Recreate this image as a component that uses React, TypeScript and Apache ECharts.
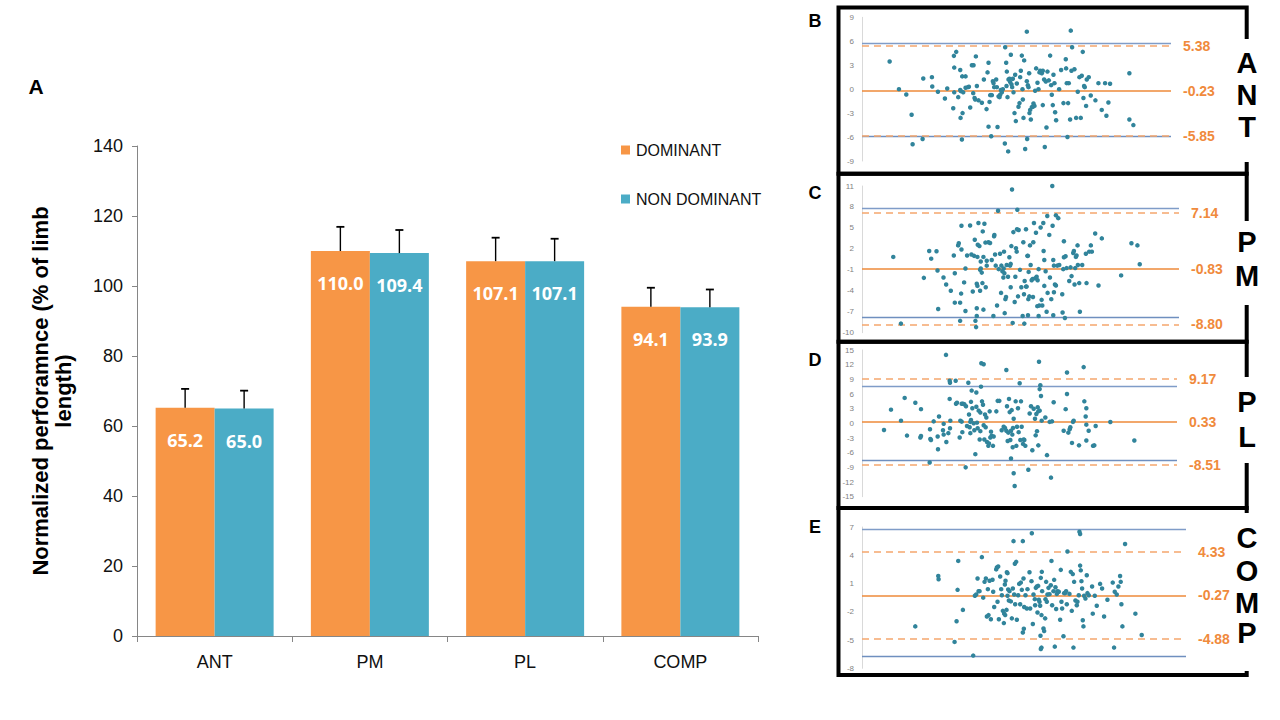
import React, { useEffect, useRef } from "react";
import * as echarts from "echarts";

// ---------- Panel A data ----------
const categories = ["ANT", "PM", "PL", "COMP"];
const dominant = [65.2, 110.0, 107.1, 94.1];
const nonDominant = [65.0, 109.4, 107.1, 93.9];
const dominantSD = [5.4, 6.9, 6.7, 5.4];
const nonDominantSD = [5.1, 6.6, 6.4, 5.1];
const seriesNames = ["DOMINANT", "NON DOMINANT"];

// ---------- Bland-Altman data (B-E) ----------
const panelLetters = ["B", "C", "D", "E"];
const panelWords = ["ANT", "PM", "PL", "COMP"];
// [upper limit, bias, lower limit]
const antLimits = [5.38, -0.23, -5.85];
const pmLimits = [7.14, -0.83, -8.8];
const plLimits = [9.17, 0.33, -8.51];
const compLimits = [4.33, -0.27, -4.88];
// reference (blue) lines
const antRef = [5.8, -5.9];
const pmRef = [7.87, -7.83];
const plRef = [7.5, -7.57];
const compRef = [6.72, -6.7];
// y tick ranges [min, max, step]
const antTicks = [-9, 9, 3];
const pmTicks = [-10, 11, 3];
const plTicks = [-15, 15, 3];
const compTicks = [-8, 7, 3];

const antPoints = [[26.8,3.46],[29.6,0],[31.8,-0.67],[33.4,-3.2],[33.7,-6.9],[36.7,-6.25],[36.9,1.33],[39.5,1.5],[39.6,0.33],[41.3,-0.33],[43.4,-1.17],[44.1,0.08],[45.9,-2.4],[46.1,4.17],[46.8,4.67],[46.2,2.7],[46.2,-0.4],[47.4,-1.0],[48,2.4],[48,-0.1],[48.2,-0.25],[48.1,-3.6],[48.5,-6.3],[48.6,1.6],[49.6,1.6],[48.7,-3.0],[48.9,-0.4],[49.6,0.17],[50.3,0.25],[51,-2.3],[50.6,0.3],[51.5,3.0],[52,3.0],[51.9,-0.5],[52.3,-1.1],[52.5,-1.3],[52.7,4.1],[53,0.4],[53.5,-1.4],[54.5,-1.7],[55.1,1.2],[55.9,-2.5],[56.2,2.1],[56.5,3.3],[56.5,-4.7],[56.8,-1.6],[57,-0.75],[57.3,-5.9],[57.5,-0.75],[57.8,1.0],[58,0.75],[58.2,0.25],[58.8,1.2],[59,0.25],[59.2,-4.75],[59.5,-0.9],[59.8,-1.0],[60,-0.7],[60.2,-0.1],[60.5,-0.4],[60.8,0],[61.4,-6.8],[61.5,5.25],[61.8,3.3],[61.9,0.4],[62,2.2],[62.2,-1.0],[62.4,-7.8],[62.5,1.2],[62.8,1.3],[63,0.9],[63.2,4.3],[63.4,0.6],[63.6,0.25],[63.8,1.3],[64,-0.4],[64.3,-3.0],[64.5,1.8],[64.7,-4.0],[65,0.7],[65.5,-2.2],[65.8,-1.75],[66,1.5],[66.2,2.3],[66.5,4.2],[66.7,0],[66.8,-1.3],[67,-3.6],[67.2,3.6],[67.5,-7.5],[68,7.2],[68,1.0],[68.1,-6.25],[68.3,0.5],[68.5,0.25],[68.7,2.0],[68.8,-3.0],[69,-2.6],[69.2,-3.8],[69.5,-2.25],[69.8,-2.2],[70,-1.8],[70.3,-2.1],[70.5,-0.2],[70.8,2.6],[71.2,0.8],[71.5,0],[71.8,2.1],[72,2.3],[72.5,2.0],[72.8,2.3],[72.8,-2.0],[73.2,1.2],[73.4,-7.25],[73.7,0.96],[73.9,-4.8],[74.2,2.2],[74.6,1.1],[75,4.2],[75.3,0.5],[75.5,-0.7],[75.8,-2.0],[76,1.8],[76.3,0.75],[76.5,-2.9],[76.8,-3.9],[77.7,0],[78.3,2.4],[79,-1.75],[79.7,3.75],[79.8,2.6],[80,0.75],[80.2,-6.0],[80.4,-1.75],[80.6,0.75],[81,-3.8],[81.2,7.33],[81.4,2.3],[81.6,5.25],[82.3,2.5],[82.8,-3.6],[83.3,-0.33],[83.8,1.5],[84.2,-3.6],[84.5,1.67],[84.8,4.67],[85,-1.1],[85.2,0.4],[85.4,0.25],[85.8,-2.1],[86,1.2],[86.6,1.5],[87.2,-0.8],[88.6,-1.4],[89.5,0.75],[90.5,-2.6],[91.5,0.75],[91.9,-3.33],[92.5,-1.67],[93,0.67],[98.8,2.0],[98.8,-3.8],[100,-4.5]];

const pmPoints = [[27.9,0.85],[30.2,-8.7],[37.1,-2.15],[38.7,1.7],[39.3,0.6],[40.9,1.67],[41.2,-1.1],[41.4,-6.6],[43,-2.1],[43.8,-3.1],[45.2,-4.0],[46.1,1.05],[46.4,-1.5],[46.4,-5.7],[47.4,2.5],[47.6,2.8],[48,-5.7],[48,-8.3],[48.4,1.9],[48.4,5.3],[48.3,-4.4],[49.2,-2.8],[49.6,-0.8],[49.6,-6.9],[50.1,1.05],[51,5.35],[51.4,1.2],[51.8,-4.1],[52.2,1.0],[52.4,3.3],[52.6,-8.3],[52.8,-9.2],[53,-3.0],[53.2,-3.3],[53,-6.5],[53,-7.6],[53.2,0.85],[53.3,2.6],[53.5,5.7],[53.8,2.4],[54,-1.0],[54.2,-0.8],[54,-4.0],[54.2,0.2],[54.5,-1.4],[54.7,-2.9],[54.8,4.5],[55,-6.7],[55,0.85],[55.3,5.6],[55.6,2.9],[55.7,-3.5],[56,0.3],[56,-0.4],[56.5,2.95],[57,2.85],[57.5,0.4],[58,-7.6],[58.2,3.8],[58.3,4.0],[58.5,1.2],[58.7,-0.4],[59.1,-6.1],[59.4,7.45],[59.6,-0.9],[60,1.3],[60.3,-4.3],[60.4,-0.4],[60.7,-1.2],[61,-2.1],[61.1,-0.8],[61.2,1.6],[61.3,-1.5],[61.4,-7.2],[61.6,-5.2],[61.8,-4.9],[62,-0.3],[62.4,-2.0],[62.8,0.8],[63,-0.4],[63.2,-0.15],[63.2,-3.5],[63.4,2.4],[63.6,10.5],[63.8,-8.6],[64,4.4],[64.4,-5.6],[64.6,-2.0],[64.8,2.1],[65,1.6],[65.1,4.8],[65.2,7.6],[65.4,-4.8],[65.6,4.7],[66,-1.0],[66.4,-3.5],[66.8,-7.6],[67,2.95],[67.2,-4.5],[67.3,-8.7],[67.4,-2.6],[67.8,-3.4],[68,-3.4],[67.8,4.8],[68.2,1.0],[68.4,1.0],[68.4,-7.5],[68.5,-5.2],[68.6,-1.3],[68.8,-4.8],[69,2.5],[69.2,-0.3],[69.5,-2.5],[69.8,-2.3],[69.9,-4.9],[70,2.95],[70.2,5.7],[70.6,-2.2],[70.8,4.3],[71,-2.0],[71.2,-6.2],[71.3,-2.5],[71.6,-7.6],[71.6,-0.9],[71.8,-6.1],[72.2,5.05],[72.5,-5.3],[72.7,-6.1],[73,5.7],[73.1,1.7],[73.3,0.4],[73.3,-3.3],[73.7,-1.2],[74,-7.0],[74.2,6.7],[74.3,-4.3],[74.8,4.0],[75,-2.1],[75.4,-5.2],[75.7,11.0],[75.8,5.3],[76,0.4],[76,-7.5],[76.2,-4.2],[76.2,-0.4],[76.5,-3.1],[76.8,-3.25],[76.8,6.8],[77.2,-0.4],[77.5,6.4],[77.8,-0.3],[78.7,-4.5],[78.8,-7.1],[79,-0.9],[79.2,3.1],[79.2,0.8],[79.5,-7.9],[79.7,0.95],[80,-0.75],[80.8,-2.6],[81.2,-0.65],[81.5,-1.9],[82,1.4],[82.2,1.7],[82.4,-3.1],[82.6,-0.75],[82.8,0.85],[83,1.05],[83.3,2.5],[83.4,-0.3],[83.8,-2.9],[84,-7.0],[84.7,-0.3],[85.8,1.3],[86,-2.9],[86.8,1.6],[87.3,2.5],[87.6,1.6],[88.6,4.2],[89.6,-3.25],[90.6,3.5],[96.4,-1.8],[99.5,2.8],[101.3,2.5],[102,-0.2]];

const plPoints = [[25.1,-1.36],[27.2,2.8],[30.2,0.55],[31.3,5.2],[32,-2.5],[34.5,4.2],[36.2,2.9],[36,-2.9],[36.2,-2.6],[38.8,-8.0],[38.9,-1.2],[39,-3.2],[39.2,-3.4],[40,0.4],[41.2,-2.7],[41.3,-5.3],[41.6,1.4],[42.8,-1.4],[43,-2.3],[43,-0.1],[43.7,14.0],[43.8,-3.8],[44.4,-2.0],[44.8,8.7],[44.9,8.3],[44.8,5.0],[44.9,-1.0],[45,0.55],[46.6,8.7],[46.7,4.0],[47,4.2],[47.8,-2.9],[48,0.55],[48.4,0.35],[48.4,4.0],[48.8,4.0],[49.2,3.9],[48.6,-1.8],[49.6,-9.0],[49.7,3.5],[50,-0.55],[50.4,8.3],[50.6,1.8],[50.8,-0.8],[51,-2.0],[51,0.3],[51.2,0.7],[51.2,4.4],[51.4,6.7],[51.6,3.1],[52,0],[52.2,-1.4],[52.5,-6.3],[52.8,6.3],[52.8,3.4],[53,0.14],[53.2,-1.0],[53.5,2.6],[54,2.2],[53.8,-3.3],[54,-1.6],[54.2,7.5],[54.3,12.3],[55,12.1],[54.5,4.5],[54.8,3.8],[55,-0.4],[55.2,-3.3],[55.4,1.8],[55.6,-0.8],[55.8,1.2],[56,-3.8],[56.4,-4.6],[56.6,-4.1],[56.8,2.45],[57,-2.9],[57.4,-2.5],[57.2,-1.7],[57.8,-4.6],[58,-2.7],[58.8,2.45],[59.2,4.6],[59.7,4.6],[60.4,-1.4],[61,-0.7],[61.4,-0.95],[61.8,-1.5],[61.8,10.9],[62,3.5],[62.2,-3.6],[62.4,-1.9],[62.6,5.0],[62.8,2.3],[63,-3.4],[63.2,-7.2],[63.2,-1.5],[63.4,2.7],[63.6,-2.3],[63.7,-4.9],[63.8,-0.95],[64,-10.2],[64,0.95],[64.3,-12.8],[64.6,4.5],[64.8,-4.6],[65,-0.7],[65.3,3.1],[65.5,-1.8],[65.8,8.2],[66,-3.4],[66.2,4.5],[66.4,-0.7],[66.8,-4.2],[67,-3.3],[67.2,-3.4],[67.5,-4.6],[68.4,-9.5],[68.8,2.0],[69.2,3.5],[69.6,-5.5],[70,3.0],[70.4,0.95],[70.6,-2.45],[70.8,1.9],[71,-1.6],[71.2,3.3],[71.4,2.45],[71.8,2.6],[71.4,-4.5],[71.6,12.6],[71.8,7.0],[72,7.8],[72.2,5.6],[72.4,0.55],[73.5,1.2],[74,-6.5],[74.8,0.3],[75.2,-11.1],[75.5,0.4],[76,4.3],[79,-1.5],[79.6,2.9],[80,10.4],[80,6.0],[80.4,-1.9],[80.8,-1.2],[81,-0.8],[81.5,-4.0],[81.8,0.3],[82,0.55],[83.6,-4.5],[85,11.5],[85.2,4.5],[85.6,1.4],[85.8,-3.5],[85.8,3.1],[85.8,-0.27],[86.5,-1.5],[87.8,-4.6],[88.2,-4.5],[88.6,-0.55],[93,0.27],[100.2,-3.5]];

const compPoints = [[34.5,-3.55],[41.4,1.8],[41.5,1.46],[46.3,-5.2],[46.9,-3.0],[47.2,0.33],[47.4,3.4],[48.8,-1.8],[51.9,-6.65],[52.4,-0.3],[52.8,-0.16],[53.2,1.53],[53.5,0.19],[53.8,0.19],[54.5,3.8],[54.9,-0.5],[55.3,1.18],[55.7,1.53],[56,-2.5],[56.5,-2.35],[57.2,-2.8],[56.3,0.4],[56.8,1.3],[57.7,1.4],[57.9,0.12],[58.2,-1.5],[58.8,2.5],[59,2.7],[59.4,2.8],[59.2,-0.94],[59.6,-2.8],[60,1.74],[60.3,0.4],[60.5,-0.24],[60.8,-1.9],[61.2,-2.2],[61.5,-2.35],[61.1,-3.2],[61.4,0.9],[61.6,1.3],[61.9,-1.8],[62,2.2],[62.2,2.1],[62.2,-0.3],[62.4,0.36],[62.6,-0.8],[62.8,0.19],[63.2,-0.9],[63.5,-2.7],[63.8,0.47],[64,5.5],[64.2,-0.16],[64.4,3.1],[64.8,3.3],[64.5,-1.2],[65,-2.85],[65.4,-0.24],[65.7,0.96],[66,-1.2],[66.2,1.1],[66.5,0.33],[66.8,5.5],[66.8,-4.2],[67.1,-3.8],[67,1.53],[67.2,-1.5],[67.6,-0.24],[68,-1.65],[68.2,0.4],[68.8,2.2],[69,-1.65],[69.4,1.25],[69.5,6.33],[69.8,-3.3],[70,-0.16],[70.4,-0.66],[70.5,-1.3],[70.7,0.54],[71,0.68],[71.4,0.75],[71.2,-2.07],[71.6,-0.73],[71.8,-0.94],[72,-1.36],[72.1,-4.55],[72.2,1.6],[72.2,-5.95],[72.4,-5.8],[72.4,-2.35],[72.5,2.24],[72.6,0.19],[73,-3.77],[73.2,-4.05],[73.5,-2.7],[73.6,-0.66],[73.8,1.18],[74,-0.94],[74.2,-0.16],[74.5,0.54],[74.8,-0.13],[75.2,0.82],[75.4,3.4],[75.6,-1.3],[76,0.19],[76.2,1.39],[76.4,-5.7],[76.6,0.6],[76.8,-1.7],[77,-0.1],[77.2,0.19],[77.6,0.12],[78,-2.85],[78.2,2.45],[78.4,-0.94],[78.6,-1.65],[79,-4.6],[79.2,-0.02],[79.5,-0.02],[79.8,0.19],[80,-1.2],[80.2,4.4],[80.8,-0.1],[81.2,2.24],[81.8,2.0],[81.5,-1.9],[82,-5.8],[82.2,1.18],[82.6,-0.8],[83,-1.3],[83.2,-0.94],[83.6,-0.24],[83.8,6.5],[84,6.26],[84,2.9],[84.2,2.4],[84.4,1.25],[84.6,0.47],[84.8,-2.9],[85,-3.55],[85.2,-0.3],[85.6,-0.6],[86,1.88],[86.2,-0.02],[86.6,-0.24],[87.6,0.68],[87.8,-2.2],[88.4,-0.3],[89,-1.36],[90,0.96],[90.6,0.47],[91.2,-2.5],[92.2,-0.73],[93.8,1.1],[94.2,-5.8],[94.4,0.12],[95,-0.16],[95.5,0.68],[96,1.8],[96.2,1.18],[96.4,-1.2],[96.7,-3.55],[97.5,5.2],[100.6,-2.2],[102.5,-4.47]];

// ---------- styles / layout ----------
const ORANGE = "#F79646";
const TEAL = "#4BACC6";
const DOT = "#31849B";
const SANS = "'Liberation Sans', Arial, Helvetica, sans-serif";

const panelLayouts = [
  { top: 17.3, height: 143.7, width: 309, xMax: 111.3, frameY: 7.5, frameH: 166.3, gap: [39, 162], letterY: [62.7, 95, 126.7], labelY: 21 },
  { top: 186, height: 146.7, width: 317, xMax: 113.8, frameY: 173.8, frameH: 168, gap: [221, 305], letterY: [241.7, 276], labelY: 193 },
  { top: 350, height: 146.7, width: 315, xMax: 113.0, frameY: 341.8, frameH: 166.2, gap: [377, 463], letterY: [402, 437], labelY: 360 },
  { top: 527, height: 141.3, width: 324, xMax: 115.8, frameY: 508, frameH: 167, gap: [513, 671], letterY: [538, 570.5, 603, 633], labelY: 527 },
];

const panelPoints = [antPoints, pmPoints, plPoints, compPoints];
const panelLimits = [antLimits, pmLimits, plLimits, compLimits];
const panelRefs = [antRef, pmRef, plRef, compRef];
const panelTicks = [antTicks, pmTicks, plTicks, compTicks];

function buildOption() {
  const grids: any[] = [{ left: 137, top: 146, width: 621, height: 490 }];
  const xAxes: any[] = [
    {
      type: "category",
      gridIndex: 0,
      data: categories,
      axisLine: { lineStyle: { color: "#868686", width: 1 } },
      axisTick: { show: true, alignWithLabel: false, length: 6, lineStyle: { color: "#868686" } },
      axisLabel: { fontSize: 18, color: "#111", fontFamily: SANS, margin: 17 },
    },
  ];
  const yAxes: any[] = [
    {
      type: "value",
      gridIndex: 0,
      min: 0,
      max: 140,
      interval: 20,
      name: "Normalized perforamnce (% of limb\nlength)",
      nameLocation: "middle",
      nameGap: 62,
      nameTextStyle: { fontSize: 22, fontWeight: "bold", color: "#000", fontFamily: SANS, lineHeight: 23 },
      axisLine: { show: true, lineStyle: { color: "#868686" } },
      axisTick: { show: true, length: 5, lineStyle: { color: "#868686" } },
      axisLabel: { fontSize: 18, color: "#111", fontFamily: SANS, margin: 14 },
      splitLine: { show: false },
    },
  ];

  const barCommon = {
    type: "bar",
    xAxisIndex: 0,
    yAxisIndex: 0,
    barGap: "0%",
    barCategoryGap: "24%",
    label: {
      show: true,
      position: "insideTop",
      distance: 23,
      color: "#fff",
      fontSize: 18,
      fontWeight: "bold",
      fontFamily: "'Open Sans', 'Noto Sans', sans-serif",
      formatter: (p: any) => Number(p.value).toFixed(1),
    },
  };

  const errorSeries = (vals: number[], sds: number[], side: number) => ({
    type: "custom",
    xAxisIndex: 0,
    yAxisIndex: 0,
    silent: true,
    z: 10,
    data: vals.map((v, i) => [i, v, v + sds[i]]),
    encode: { x: 0, y: [1, 2] },
    renderItem: (params: any, api: any) => {
      const i = api.value(0);
      const base = api.coord([i, api.value(1)]);
      const top = api.coord([i, api.value(2)]);
      const band = api.size([1, 0])[0];
      const x = base[0] + side * band * 0.19;
      return {
        type: "group",
        children: [
          { type: "line", shape: { x1: x, y1: base[1], x2: x, y2: top[1] }, style: { stroke: "#000", lineWidth: 1.4 } },
          { type: "line", shape: { x1: x - 4, y1: top[1], x2: x + 4, y2: top[1] }, style: { stroke: "#000", lineWidth: 1.8 } },
        ],
      };
    },
  });

  const series: any[] = [
    { ...barCommon, name: seriesNames[0], data: dominant, itemStyle: { color: ORANGE } },
    { ...barCommon, name: seriesNames[1], data: nonDominant, itemStyle: { color: TEAL } },
    errorSeries(dominant, dominantSD, -1),
    errorSeries(nonDominant, nonDominantSD, 1),
  ];

  const graphic: any[] = [
    { type: "text", x: 36, y: 86, style: { text: "A", fontSize: 21, fontWeight: "bold", fontFamily: SANS, fill: "#000", align: "center", verticalAlign: "middle" } },
  ];

  panelLayouts.forEach((L, k) => {
    const gi = k + 1;
    const [tMin, tMax, tStep] = panelTicks[k];
    const [up, bias, lo] = panelLimits[k];
    const [rUp, rLo] = panelRefs[k];
    grids.push({ left: 862, top: L.top, width: L.width, height: L.height });
    xAxes.push({ type: "value", gridIndex: gi, min: 18.5, max: L.xMax, show: false });
    yAxes.push({
      type: "value",
      gridIndex: gi,
      min: tMin,
      max: tMax,
      interval: tStep,
      axisLine: { show: true, lineStyle: { color: "#d9d9d9", width: 1 } },
      axisTick: { show: false },
      splitLine: { show: false },
      axisLabel: { fontSize: 8, color: "#7f7f7f", fontFamily: SANS, margin: 8 },
    });
    const lblStyle = { show: true, position: "end", distance: 12, color: "#F08A3C", fontSize: 14, fontWeight: "bold", fontFamily: SANS, padding: [0, 0, 6, 0], formatter: (p: any) => Number(p.value).toFixed(2) };
    series.push({
      type: "scatter",
      xAxisIndex: gi,
      yAxisIndex: gi,
      data: panelPoints[k],
      symbolSize: 4.5,
      itemStyle: { color: DOT, opacity: 1 },
      silent: true,
      z: 5,
      markLine: {
        silent: true,
        symbol: "none",
        animation: false,
        data: [
          { yAxis: rUp, lineStyle: { color: "#7F9CC8", width: 1.3, type: "solid" }, label: { show: false } },
          { yAxis: rLo, lineStyle: { color: "#6F8FBF", width: 1.3, type: "solid" }, label: { show: false } },
          { yAxis: up, lineStyle: { color: "#F5A66E", width: 1.6, type: [7, 5] }, label: lblStyle },
          { yAxis: bias, lineStyle: { color: "#EE8A3A", width: 1.6, type: "solid" }, label: lblStyle },
          { yAxis: lo, lineStyle: { color: "#F5A66E", width: 1.6, type: [7, 5] }, label: lblStyle },
        ],
      },
    });

    // frame
    graphic.push({ type: "rect", z: 50, shape: { x: 838.5, y: L.frameY, width: 408.2, height: L.frameH }, style: { fill: "none", stroke: "#000", lineWidth: 4 } });
    graphic.push({ type: "rect", z: 60, shape: { x: 1240, y: L.gap[0], width: 14, height: L.gap[1] - L.gap[0] }, style: { fill: "#fff", stroke: "none" } });
    panelWords[k].split("").forEach((ch, j) => {
      graphic.push({ type: "text", z: 70, x: 1247, y: L.letterY[j], style: { text: ch, fontSize: 29, lineHeight: 26, fontWeight: "bold", fontFamily: SANS, fill: "#000", align: "center", verticalAlign: "middle" } });
    });
    graphic.push({ type: "text", z: 70, x: 815, y: L.labelY, style: { text: panelLetters[k], fontSize: 18, fontWeight: "bold", fontFamily: SANS, fill: "#000", align: "center", verticalAlign: "middle" } });
  });

  return {
    animation: false,
    backgroundColor: "#fff",
    grid: grids,
    xAxis: xAxes,
    yAxis: yAxes,
    legend: {
      data: seriesNames,
      orient: "vertical",
      left: 616,
      top: 137,
      itemWidth: 9,
      itemHeight: 9,
      itemGap: 33,
      icon: "rect",
      textStyle: { fontSize: 16, color: "#111", fontFamily: SANS, padding: [0, 0, 0, 1] },
      selectedMode: false,
    },
    series,
    graphic,
  };
}

export default function App() {
  const ref = useRef<HTMLDivElement>(null);
  useEffect(() => {
    if (!ref.current) return;
    const chart = echarts.init(ref.current, undefined, { renderer: "svg" });
    chart.setOption(buildOption() as any);
    return () => chart.dispose();
  }, []);
  return <div ref={ref} style={{ position: "fixed", left: 0, top: 0, width: 1280, height: 720, background: "#fff" }} />;
}
